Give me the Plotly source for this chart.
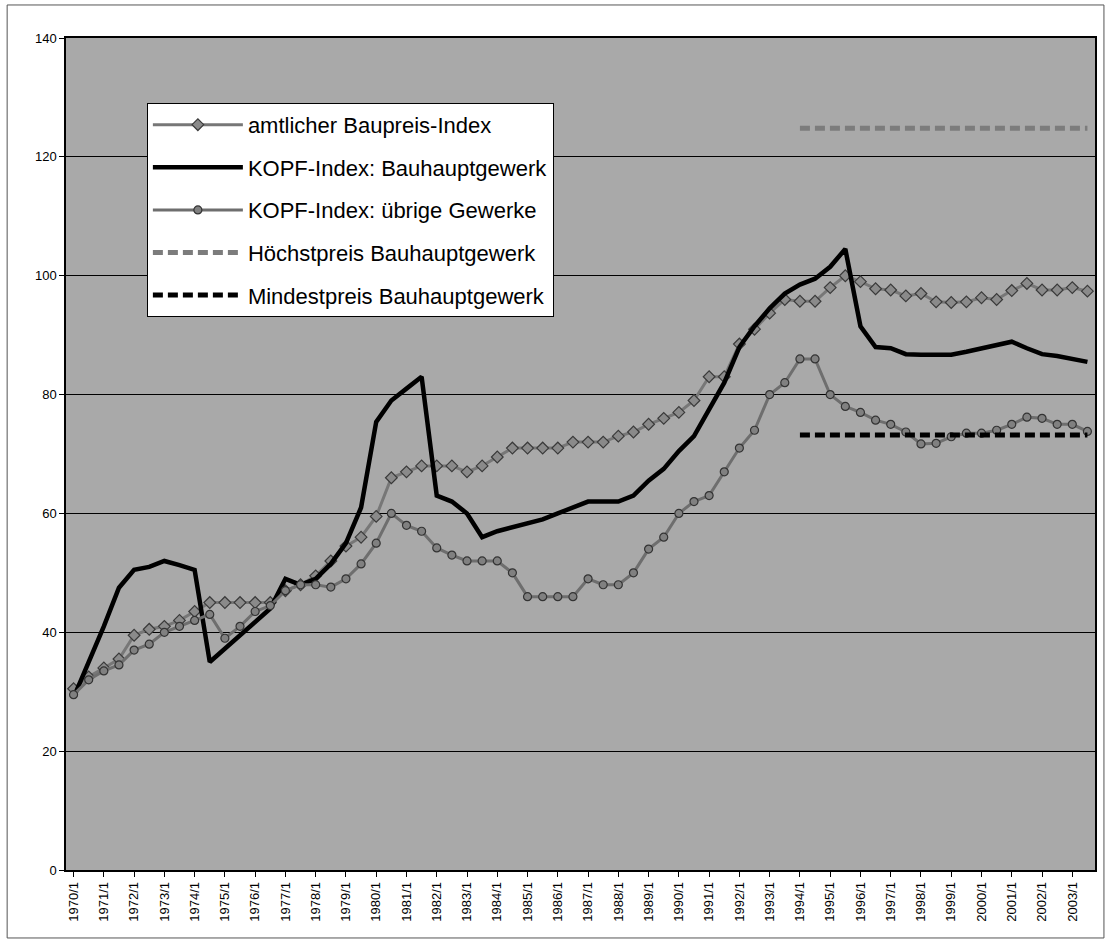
import plotly.graph_objects as go

# Half-year periods 1970/1 ... 2003/2
kategorien = [f"{jahr}/{h}" for jahr in range(1970, 2004) for h in (1, 2)]

amtlicher_index = [
    30.5, 32.5, 34.0, 35.5, 39.5, 40.5, 41.0, 42.0, 43.5, 45.0,
    45.0, 45.0, 45.0, 45.0, 47.0, 48.0, 49.5, 52.0, 54.5, 56.0,
    59.5, 66.0, 67.0, 68.0, 68.0, 68.0, 67.0, 68.0, 69.5, 71.0,
    71.0, 71.0, 71.0, 72.0, 72.0, 72.0, 73.0, 73.7, 75.0, 76.0,
    77.0, 79.0, 83.0, 83.0, 88.5, 91.0, 93.7, 96.0, 95.7, 95.7,
    98.0, 100.0, 99.0, 97.8, 97.6, 96.6, 97.0, 95.6, 95.5, 95.6,
    96.3, 96.0, 97.5, 98.7, 97.6, 97.6, 98.0, 97.4,
]

kopf_bauhaupt = [
    29.0, 35.0, 41.0, 47.5, 50.5, 51.0, 52.0, 51.3, 50.5, 35.0,
    37.2, 39.5, 41.7, 44.0, 49.0, 48.0, 49.0, 51.5, 55.0, 61.0,
    75.4, 79.0, 81.0, 83.0, 63.0, 62.0, 60.0, 56.0, 57.0, 57.7,
    58.3, 59.0, 60.0, 61.0, 62.0, 62.0, 62.0, 63.0, 65.5, 67.5,
    70.5, 73.0, 77.5, 82.0, 88.0, 91.5, 94.5, 97.0, 98.5, 99.5,
    101.5, 104.5, 91.5, 88.0, 87.8, 86.8, 86.7, 86.7, 86.7, 87.2,
    87.8, 88.3, 88.9, 87.8, 86.8, 86.5, 86.0, 85.5,
]

kopf_uebrige = [
    29.5, 32.0, 33.5, 34.5, 37.0, 38.0, 40.0, 41.0, 42.0, 43.0,
    39.0, 41.0, 43.5, 44.5, 47.0, 48.0, 48.0, 47.6, 49.0, 51.5,
    55.0, 60.0, 58.0, 57.0, 54.2, 53.0, 52.0, 52.0, 52.0, 50.0,
    46.0, 46.0, 46.0, 46.0, 49.0, 48.0, 48.0, 50.0, 54.0, 56.0,
    60.0, 62.0, 63.0, 67.0, 71.0, 74.0, 80.0, 82.0, 86.0, 86.0,
    80.0, 78.0, 77.0, 75.7, 75.0, 73.7, 71.7, 71.8, 72.9, 73.5,
    73.5, 74.0, 75.0, 76.2, 76.0, 75.0, 75.0, 73.8,
]

# Price limits apply from 1994/1 onwards
preis_kategorien = kategorien[kategorien.index("1994/1"):]
hoechstpreis = [124.8] * len(preis_kategorien)
mindestpreis = [73.2] * len(preis_kategorien)

tick_labels = [k for k in kategorien if k.endswith("/1")]

FONT = "Liberation Sans, Arial, sans-serif"

fig = go.Figure()

fig.add_trace(go.Scatter(
    x=kategorien, y=amtlicher_index, name="amtlicher Baupreis-Index",
    mode="lines+markers", legendgroup="a",
    line=dict(color="#777777", width=3),
    marker=dict(symbol="diamond", size=9, color="#8a8a8a",
                line=dict(color="#3a3a3a", width=1.2)),
))
fig.add_trace(go.Scatter(
    x=kategorien, y=kopf_bauhaupt, name="KOPF-Index: Bauhauptgewerk",
    mode="lines", legendgroup="b",
    line=dict(color="#000000", width=4.5),
))
fig.add_trace(go.Scatter(
    x=kategorien, y=kopf_uebrige, name="KOPF-Index: übrige Gewerke",
    mode="lines+markers", legendgroup="c",
    line=dict(color="#6e6e6e", width=3),
    marker=dict(symbol="circle", size=8, color="#808080",
                line=dict(color="#333333", width=1.2)),
))
fig.add_trace(go.Scatter(
    x=preis_kategorien, y=hoechstpreis, name="Höchstpreis Bauhauptgewerk",
    mode="lines", legendgroup="d",
    line=dict(color="#7c7c7c", width=5, dash="10px,5px"),
))
fig.add_trace(go.Scatter(
    x=preis_kategorien, y=mindestpreis, name="Mindestpreis Bauhauptgewerk",
    mode="lines", legendgroup="e",
    line=dict(color="#000000", width=5, dash="10px,5px"),
))

fig.update_xaxes(
    type="category", categoryorder="array", categoryarray=kategorien,
    range=[-0.5, len(kategorien) - 0.5],
    tickmode="array", tickvals=tick_labels, ticktext=tick_labels,
    tickangle=-90, ticks="outside", ticklen=5, tickcolor="black",
    showline=True, mirror=True, linecolor="black", linewidth=1.5,
    showgrid=False, zeroline=False,
    tickfont=dict(family=FONT, size=13, color="black"),
)
fig.update_yaxes(
    range=[0, 140], dtick=20, tick0=0,
    ticks="outside", ticklen=5, tickcolor="black",
    showline=True, mirror=True, linecolor="black", linewidth=1.5,
    showgrid=True, gridcolor="black", gridwidth=1, zeroline=False,
    tickfont=dict(family=FONT, size=13, color="black"),
)

fig.update_layout(
    width=1109, height=941,
    margin=dict(l=66, r=12, t=38, b=71),
    paper_bgcolor="white",
    plot_bgcolor="#a9a9a9",
    font=dict(family=FONT, color="black"),
    showlegend=True,
    legend=dict(
        x=0.0786, y=0.922, xanchor="left", yanchor="top",
        bgcolor="white", bordercolor="black", borderwidth=1,
        font=dict(family=FONT, size=22, color="black"),
        itemwidth=90, tracegroupgap=11,
    ),
    shapes=[dict(
        type="rect", xref="paper", yref="paper",
        x0=-0.0572, x1=1.0087, y0=-0.0817, y1=1.0397,
        line=dict(color="#555555", width=1),
    )],
)

fig.write_html("out.html")
